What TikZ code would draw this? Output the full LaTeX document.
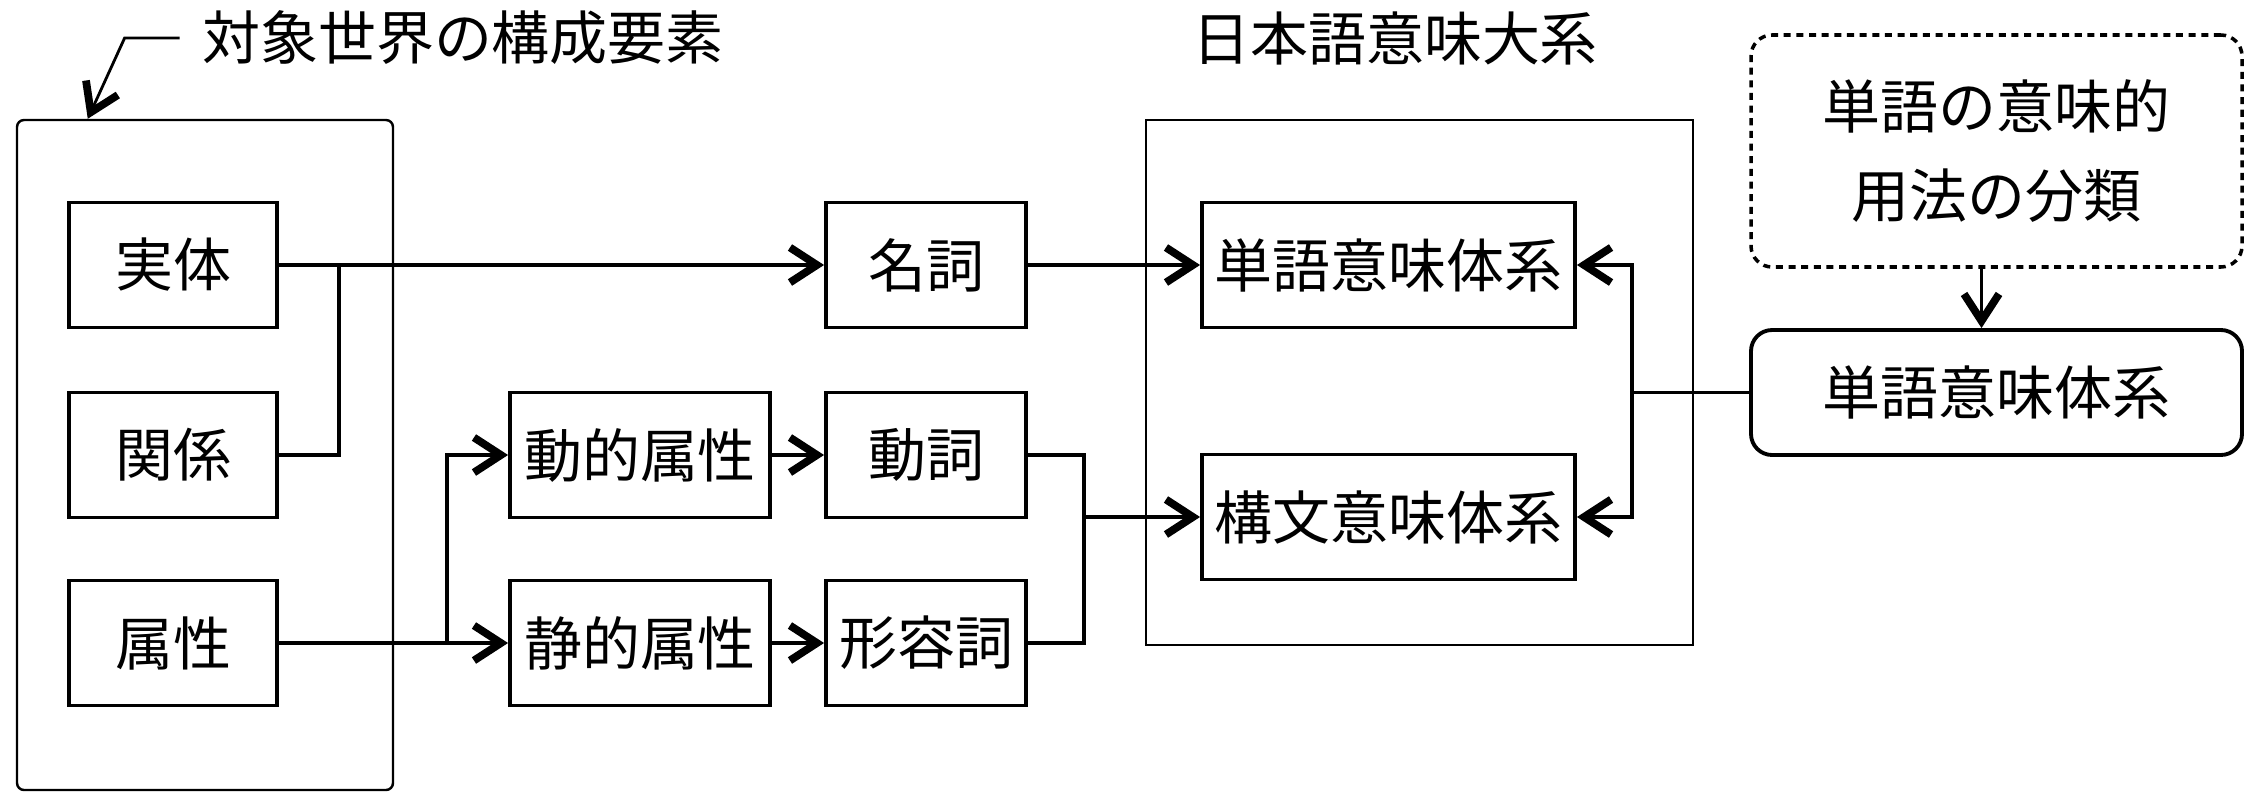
\documentclass[tikz,border=0pt]{standalone}
\usepackage{fontspec}
\setmainfont{Noto Sans CJK JP}
\usetikzlibrary{arrows.meta}

\newcommand\jpsize{\fontsize{16.5}{25.5}\selectfont}

\begin{document}
\begin{tikzpicture}[
    box/.style={draw, line width=1.1pt, minimum height=1.25cm, inner sep=0pt, font=\jpsize},
    group/.style={draw, line width=0.7pt, inner sep=0pt},
    title/.style={font=\jpsize},
    line/.style={line width=1.1pt},
    arr/.style={line, -{Straight Barb[length=2.7mm, width=3.5mm, line width=2.2pt]}}
]
    \useasboundingbox (0,0) rectangle (22.63,-8.08);

    % left group
    \node[group, rounded corners=2pt, minimum width=3.76cm, minimum height=6.70cm] (world) at (2.05,-4.55) {};
    \node[title] (objt) at (4.63,-0.38) {対象世界の構成要素};
    \node[box, minimum width=2.08cm] (ent) at (1.73,-2.65) {実体};
    \node[box, minimum width=2.08cm] (rel) at (1.73,-4.55) {関係};
    \node[box, minimum width=2.08cm] (attr) at (1.73,-6.43) {属性};

    % middle column
    \node[box, minimum width=2.60cm] (dyn) at (6.40,-4.55) {動的属性};
    \node[box, minimum width=2.60cm] (sta) at (6.40,-6.43) {静的属性};
    \node[box, minimum width=2.00cm] (noun) at (9.26,-2.65) {名詞};
    \node[box, minimum width=2.00cm] (verb) at (9.26,-4.55) {動詞};
    \node[box, minimum width=2.00cm] (adj) at (9.26,-6.43) {形容詞};

    % right group
    \node[group, minimum width=5.47cm, minimum height=5.25cm] (jsys) at (14.195,-3.825) {};
    \node[title] (jtit) at (13.95,-0.38) {日本語意味大系};
    \node[box, minimum width=3.73cm] (wsys) at (13.885,-2.65) {単語意味体系};
    \node[box, minimum width=3.73cm] (syn) at (13.885,-5.17) {構文意味体系};

    % outside
    \node[box, line width=1pt, dash pattern=on 2pt off 1.6pt, rounded corners=6pt, minimum width=4.91cm, minimum height=2.32cm, align=center] (cls) at (19.965,-1.51) {単語の意味的\\用法の分類};
    \node[box, rounded corners=6pt, minimum width=4.91cm] (wrd) at (19.965,-3.925) {単語意味体系};

    % connectors
    \draw[arr, line width=0.8pt] ([xshift=-1mm]objt.west) -- ++(-0.55,0) -- ([xshift=7.2mm]world.north west);
    \draw[arr] (ent.east) -- (noun.west);
    \draw[line] (rel.east) -| ([xshift=6mm]ent.east);
    \draw[arr] (noun.east) -- (wsys.west);
    \draw[arr] (attr.east) -- (sta.west);
    \path (sta.west) ++(-0.61,0) coordinate (s0);
    \draw[arr] (s0) |- (dyn.west);
    \draw[arr] (dyn.east) -- (verb.west);
    \draw[arr] (sta.east) -- (adj.west);
    \draw[line] (verb.east) -- ++(0.56,0) coordinate (m0) |- (adj.east);
    \draw[arr] (m0 |- syn.west) -- (syn.west);
    \draw[line] (wrd.west) -- ++(-1.17,0) coordinate (r0);
    \draw[arr] (r0) |- (wsys.east);
    \draw[arr] (r0) |- (syn.east);
    \draw[arr] ([xshift=-1.5mm]cls.south) -- ([xshift=-1.5mm]wrd.north);
\end{tikzpicture}
\end{document}
